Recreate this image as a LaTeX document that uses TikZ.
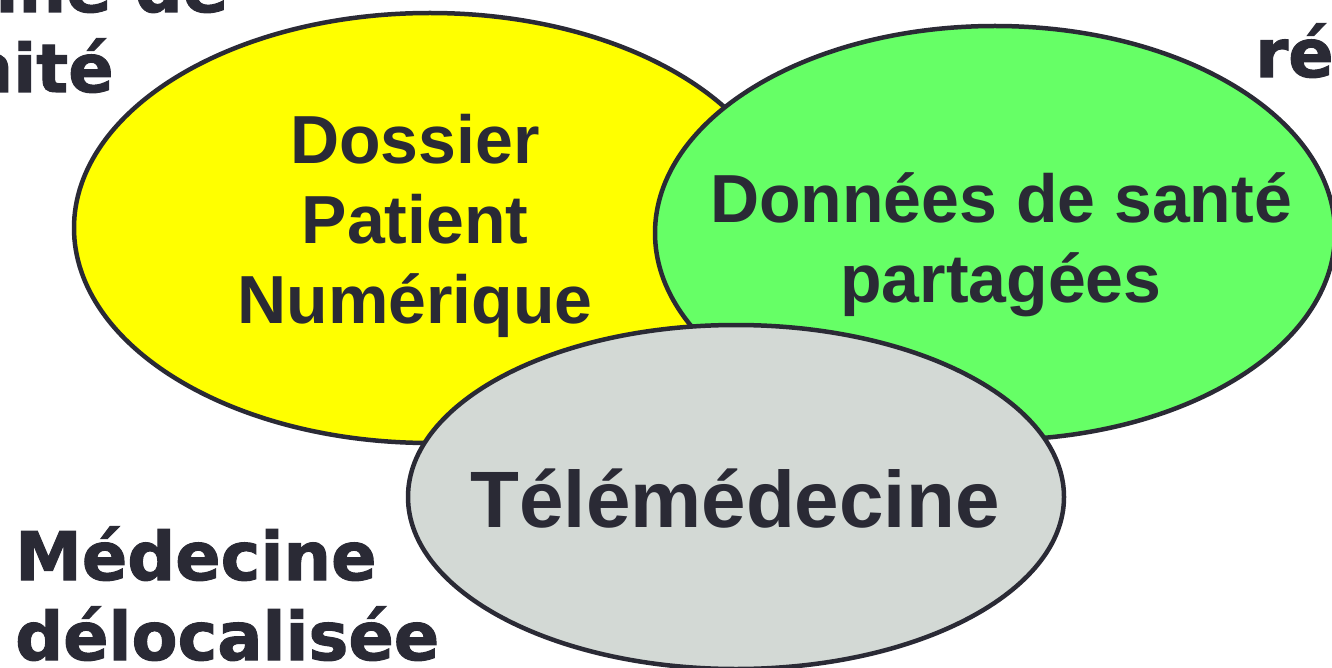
\documentclass[tikz,border=0pt]{standalone}
\usepackage{fontspec}
\setmainfont{Liberation Sans}
\newfontfamily\heavyfont[BoldFeatures={FakeBold=1.5}]{DejaVu Sans}
\usepackage{tikz}
\definecolor{inkdark}{HTML}{2A2A35}
\definecolor{dpnyellow}{HTML}{FFFF00}
\definecolor{dsgreen}{HTML}{66FF66}
\definecolor{telegrey}{HTML}{D3D9D5}

\begin{document}
\begin{tikzpicture}[x=1pt,y=-1pt,
    bubble/.style={draw=inkdark,line width=4.5pt},
    bubbletext/.style={text=inkdark,inner sep=0pt,align=center,
      font=\bfseries\fontsize{68}{80}\selectfont},
    sidetext/.style={text=inkdark,inner sep=0pt,align=left,
      font=\heavyfont\bfseries\fontsize{67}{80}\selectfont}]
  \useasboundingbox (0,0) rectangle (1332,668);
  \clip (0,0) rectangle (1332,668);
  % three overlapping bubbles
  \draw[bubble,fill=dpnyellow] (430,228) ellipse [x radius=356pt,y radius=215pt];
  \draw[bubble,fill=dsgreen] (995,233) ellipse [x radius=340pt,y radius=207pt];
  \draw[bubble,fill=telegrey] (736,497) ellipse [x radius=328pt,y radius=172pt];
  % bubble labels (base = last line)
  \node[bubbletext,anchor=base] (dpn) at (415,323) {Dossier\\Patient\\Numérique};
  \node[bubbletext,anchor=base] (dsp) at (1001,302) {Données de santé\\partagées};
  \node[bubbletext,font=\bfseries\fontsize{80}{90}\selectfont,anchor=base]
    (tele) at (735,527) {Télémédecine};
  % labels round the bubbles
  \node[sidetext,anchor=base west] (proxi) at (-250,92) {Médecine de\\proximité};
  \node[sidetext,anchor=base west] (reseau) at (1255,77) {Médecine en\\réseau};
  \node[sidetext,anchor=base west] (deloc) at (15,660) {Médecine\\délocalisée};
\end{tikzpicture}
\end{document}
